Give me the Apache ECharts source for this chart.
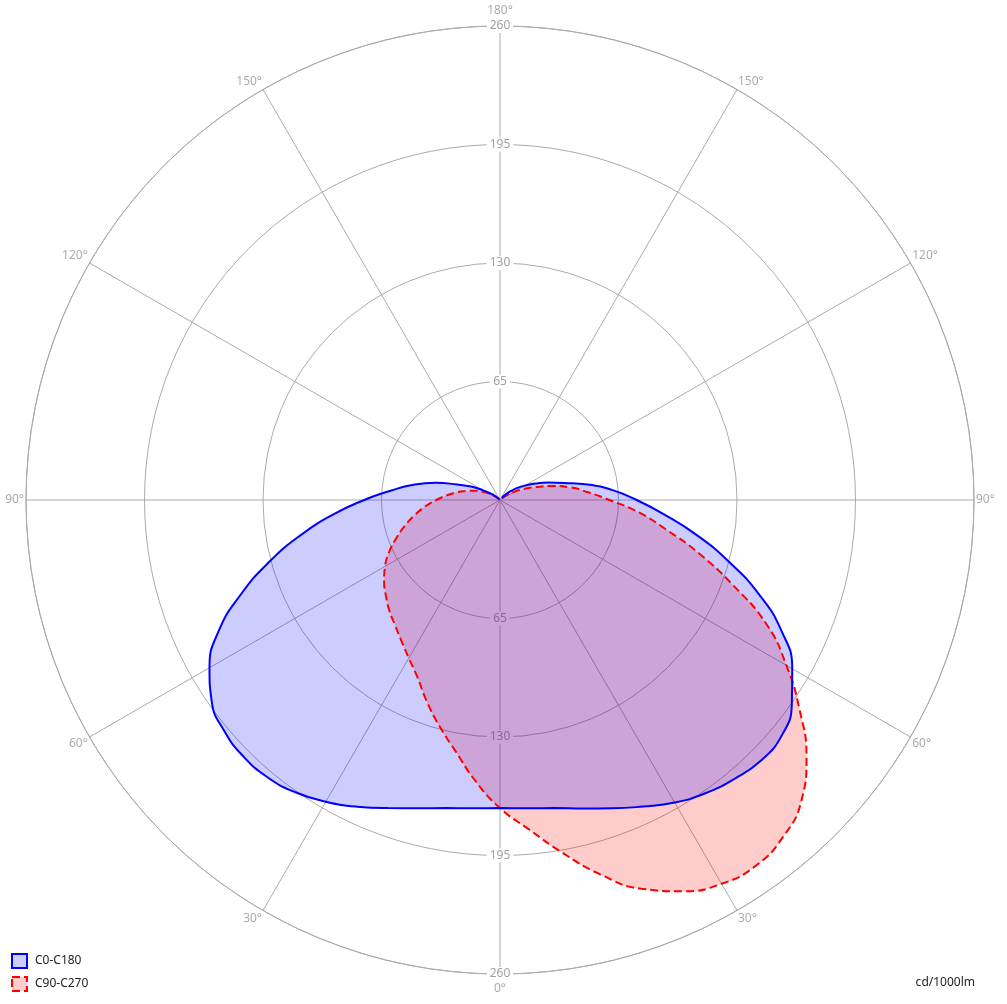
<!DOCTYPE html>
<html><head><meta charset="utf-8">
<script src="https://cdn.jsdelivr.net/npm/echarts@6/dist/echarts.min.js"></script>
<style>html,body{margin:0;padding:0;background:#fff}#c{width:1007px;height:1004px}</style>
</head><body><div id="c"></div>
<script>
// gamma angles (degrees from nadir)
const gammaAngles = [0,5,10,15,20,25,30,35,40,45,50,55,60,65,70,75,80,85,90,95,100,105,110,115,120,125,130,135,140];
// C0 plane (right half, blue)
const c0   = [169,169.7,171.6,175.2,180,185.5,191.6,196.4,199.8,202.3,201.5,195.4,185.1,170.5,151.2,129.7,109.2,90.3,75,62,48.8,36.2,28,21.4,16,11.6,7.5,4,1.5];
// C180 plane (left half, blue)
const c180 = [169,169.7,171.6,175,179.8,185.6,191.1,195.7,198.5,199,197.3,193,184,170.3,151.2,131,111,92,74.5,59.9,48.2,36.6,24.8,17.4,10.6,6,3,1.2,0.3];
// C90 plane (right half, red)
const c90  = [169,181.3,196.4,212.6,226.9,236.8,243.1,244.8,241.4,233.7,219.5,200.6,181.4,161.3,135.7,112.9,92.3,76.1,60,48.5,39.5,29.7,20.6,14.3,9,5,2.5,1,0.3];
// C270 plane (left half, red)
const c270 = [169,154.7,140,128.4,117.5,107.2,100.1,94.3,89.6,85.8,81.7,77.6,72.8,67,60.3,53.9,47.5,41.3,35,29.2,24.1,19,15,11,7.5,4.5,2.5,1,0.3];

const radiusMax = 260;
const radiusStep = 65;
const angleStep = 30;
const seriesNames = ['C0-C180', 'C90-C270'];
const unitLabel = 'cd/1000lm';

const FONT = "'Noto Sans', sans-serif";

function loop(rightVals, leftVals) {
  const pts = [];
  for (let i = gammaAngles.length - 1; i >= 0; i--) pts.push([leftVals[i], gammaAngles[i]]);
  for (let i = 1; i < gammaAngles.length; i++) pts.push([rightVals[i], 360 - gammaAngles[i]]);
  return pts;
}

const chart = echarts.init(document.getElementById('c'), null, {renderer: 'canvas'});

const radiusLabel = {
  showMinLabel: false,
  margin: 0,
  align: 'center',
  verticalAlign: 'middle',
  color: '#a0a0a0',
  backgroundColor: '#fff',
  padding: [1, 3],
  fontSize: 12,
  fontFamily: FONT
};

const angColor = '#ababab';

chart.setOption({
  animation: false,
  title: {
    text: unitLabel, right: 32, top: 977, padding: 0,
    textStyle: {fontSize: 12, fontWeight: 'normal', color: '#222', fontFamily: FONT}
  },
  legend: {
    orient: 'vertical', left: 6, top: 948,
    itemWidth: 15, itemHeight: 14, itemGap: 7,
    textStyle: {fontSize: 12, color: '#222', fontFamily: FONT, padding: [0, 0, 0, 3]},
    data: [
      {name: seriesNames[0], icon: 'rect', itemStyle: {color: 'rgba(0,0,255,0.2)', borderColor: '#0000ff', borderWidth: 2}},
      {name: seriesNames[1], icon: 'rect', itemStyle: {color: 'rgba(255,0,0,0.2)', borderColor: '#ff0000', borderWidth: 2, borderType: 'dashed'}}
    ]
  },
  polar: [
    {center: [500, 500], radius: 474},
    {center: [500, 500], radius: 474}
  ],
  angleAxis: [
    {
      polarIndex: 0, type: 'value', min: 0, max: 360, interval: angleStep,
      startAngle: 270, clockwise: true,
      axisLine: {show: true, lineStyle: {color: '#aaaaaa', width: 1}},
      axisTick: {show: false},
      axisLabel: {
        margin: 2, color: angColor, fontSize: 12, fontFamily: FONT,
        formatter: v => {
          const a = (v <= 180 ? v : 360 - v) + '°';
          if (v === 180) return '{top|' + a + '}';
          if (v === 0) return '{bot|' + a + '}';
          return a;
        },
        rich: {
          top: {padding: [0, 0, 7, 0], color: angColor, fontSize: 12, fontFamily: FONT},
          bot: {padding: [7, 0, 0, 0], color: angColor, fontSize: 12, fontFamily: FONT}
        }
      },
      splitLine: {show: true, lineStyle: {color: '#aaaaaa', width: 1}}
    },
    {
      polarIndex: 1, type: 'value', min: 0, max: 360, interval: angleStep,
      startAngle: 90, show: false
    }
  ],
  radiusAxis: [
    {
      polarIndex: 0, type: 'value', min: 0, max: radiusMax, interval: radiusStep,
      axisLine: {show: false}, axisTick: {show: false},
      splitLine: {show: true, lineStyle: {color: '#aaaaaa', width: 1}},
      axisLabel: radiusLabel
    },
    {
      polarIndex: 1, type: 'value', min: 0, max: radiusMax, interval: radiusStep,
      axisLine: {show: false}, axisTick: {show: false},
      splitLine: {show: false},
      axisLabel: radiusLabel
    }
  ],
  series: [
    {
      type: 'line', name: seriesNames[1], coordinateSystem: 'polar', polarIndex: 0,
      data: loop(c90, c270), smooth: 0.5, showSymbol: false, symbol: 'none', silent: true,
      lineStyle: {color: '#ff0000', width: 2, type: 'dashed'},
      itemStyle: {color: '#ff0000'},
      areaStyle: {color: 'rgba(255,0,0,0.2)', opacity: 1}
    },
    {
      type: 'line', name: seriesNames[0], coordinateSystem: 'polar', polarIndex: 0,
      data: loop(c0, c180), smooth: 0.5, showSymbol: false, symbol: 'none', silent: true,
      lineStyle: {color: '#0000ff', width: 2},
      itemStyle: {color: '#0000ff'},
      areaStyle: {color: 'rgba(0,0,255,0.2)', opacity: 1}
    }
  ]
});
</script>
</body></html>
